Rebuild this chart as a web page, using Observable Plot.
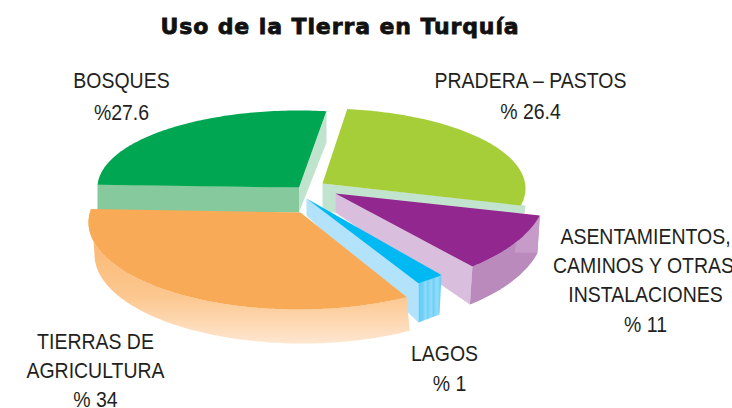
<!DOCTYPE html>
<html><head><meta charset="utf-8">
<script src="https://cdn.jsdelivr.net/npm/d3@7"></script>
<script src="https://cdn.jsdelivr.net/npm/@observablehq/plot@0.6"></script>
<style>
html,body{margin:0;padding:0;background:#fff;width:732px;height:408px;overflow:hidden}
#title{height:48px;text-align:center;font:bold 22px/53px "DejaVu Sans";letter-spacing:0.9px;-webkit-text-stroke:0.8px #111;color:#111;position:relative;left:-26px;white-space:nowrap}
#chart svg{display:block}
</style></head><body>
<div id="title">Uso de la Tierra en Turquía</div>
<div id="chart"></div>
<script>
// Data
const categories = ["Pradera – Pastos","Asentamientos","Lagos","Tierras de agricultura","Bosques"];
const shares = [26.4, 11, 1, 34, 27.6];
const labelLines = [
  ["BOSQUES","%27.6"],
  ["PRADERA – PASTOS","% 26.4"],
  ["ASENTAMIENTOS,","CAMINOS Y OTRAS","INSTALACIONES","% 11"],
  ["LAGOS","% 1"],
  ["TIERRAS DE","AGRICULTURA","% 34"]
];

// Layout of the exploded, perspective pie (page pixels)
const labelPos = [
  [[121,80],[121,112]],
  [[530,80],[530,111]],
  [[645,236],[643,265],[645,294],[645,324]],
  [[444,353],[449,383]],
  [[95,341],[95,370],[95,399]]
];
const geom = {
  pradera:{apex:[322,183],c:[322,188],rx:203,ry:80,t0:-83,k:1.003,color:"#a6ce39"},
  purple:{apex:[335,193],c:[335,190],rx:211,ry:100,t0:14.5,k:0.885,color:"#92278f"},
  lake:{apex:[306,198],c:[306,198],rx:210,ry:100,t0:50,k:2.17,color:"#00b9f2"},
  orange:{apex:[300,212],c:[298,222],rx:210,ry:87,t0:59,k:1.062,color:"#f9aa57"},
  green:{apex:[298.5,187],c:[298,187],rx:201,ry:77,t0:182,k:0.966,color:"#00a651"}
};
const keys = ["pradera","purple","lake","orange","green"];
keys.forEach((k,i)=>{geom[k].sweep = shares[i]*3.6*geom[k].k;});

function arc(g,a,b){
  const out=[]; const n=Math.max(8,Math.ceil(Math.abs(b-a)));
  for(let i=0;i<=n;i++){const t=(a+(b-a)*i/n)*Math.PI/180;
    out.push([g.c[0]+g.rx*Math.cos(t), g.c[1]+g.ry*Math.sin(t)]);}
  return out;
}
const topFace = g => [g.apex, ...arc(g,g.t0,g.t0+g.sweep)];
const poly = (pts,fill)=>Plot.line(pts,{x:d=>d[0],y:d=>d[1],fill,stroke:"none"});

const P=geom.purple, O=geom.orange, L=geom.lake, G=geom.green, R=geom.pradera;
const purpleArc = arc(P,P.t0,P.t0+P.sweep);
const purpleBottom = arc({c:[P.c[0]-2.5,P.c[1]+38],rx:P.rx,ry:P.ry},P.t0,P.t0+P.sweep);
const purpleEnd = purpleArc[purpleArc.length-1], purpleBEnd = purpleBottom[purpleBottom.length-1];
const orangeSide = [...arc(O,O.t0,O.t0+O.sweep), ...arc({c:[302,254],rx:208,ry:89},180,O.t0)];

const defs = () => {
  const d=d3.create("svg:defs");
  const a=d.append("linearGradient").attr("id","orangeSide").attr("x1",0).attr("x2",0).attr("y1",0).attr("y2",1);
  [[0,"#f9b46e"],[0.35,"#fbbd7d"],[0.65,"#fcc78f"],[1,"#fee6d0"]].forEach(([o,c])=>a.append("stop").attr("offset",o).attr("stop-color",c));
  const b=d.append("linearGradient").attr("id","lakeFront").attr("x1",0).attr("x2",1).attr("y1",0).attr("y2",0);
  [[0,"#5fcbf6"],[0.2,"#6fd1f7"],[0.3,"#93dcf9"],[0.4,"#6fd1f7"],[0.55,"#93dcf9"],[0.65,"#6fd1f7"],[0.8,"#93dcf9"],[1,"#62ccf6"]].forEach(([o,c])=>b.append("stop").attr("offset",o).attr("stop-color",c));
  return d.node();
};

const textMarks = labelLines.flatMap((lines,i)=>lines.map((t,j)=>Plot.text([t],{
  x:labelPos[i][j][0], y:labelPos[i][j][1], text:d=>d,
  fontSize:22, fontFamily:"Liberation Sans", fill:"#231f20", textAnchor:"middle", lineAnchor:"middle"
})));

const chart = Plot.plot({
  width:732,height:360,margin:0,
  x:{domain:[0,732],range:[0,732],axis:null},
  y:{domain:[48,408],range:[0,360],axis:null},
  marks:[
    defs,
    // Bosques
    poly([[97,184],G.apex,[298.5,212],[97,211]],"#86c99c"),
    poly([[326,111],[326,142],[298.5,212],G.apex],"#c0e3cd"),
    poly(topFace(G),G.color),
    // Pradera
    poly([R.apex,[525,205],[524,213],[322,212]],"#c2e4cf"),
    poly(topFace(R),R.color),
    // Asentamientos
    poly([P.apex,purpleEnd,purpleBEnd,[335,212]],"#d9bfdd"),
    poly([...purpleArc,...purpleBottom.slice().reverse()],"#b98abb"),
    poly([...purpleArc.filter(d=>d[0]>=514),[514,252],[537,252]],"#c79bc9"),
    poly(topFace(P),P.color),
    // Lagos
    poly([L.apex,[418,281],[418,322],[306,215]],"#b3e3fa"),
    poly([[418,281],[441,275],[439,314],[418,322]],"url(#lakeFront)"),
    poly(topFace(L),L.color),
    // Tierras de agricultura
    poly(orangeSide,"url(#orangeSide)"),
    poly(topFace(O),O.color),
    ...textMarks
  ]
});
document.getElementById("chart").append(chart);
// Narrow the labels horizontally, as the reference's condensed face
d3.select(chart).selectAll("text").each(function(){
  const w=this.getComputedTextLength();
  this.setAttribute("textLength",(w*0.885).toFixed(1));
  this.setAttribute("lengthAdjust","spacingAndGlyphs");
});
</script>
</body></html>
